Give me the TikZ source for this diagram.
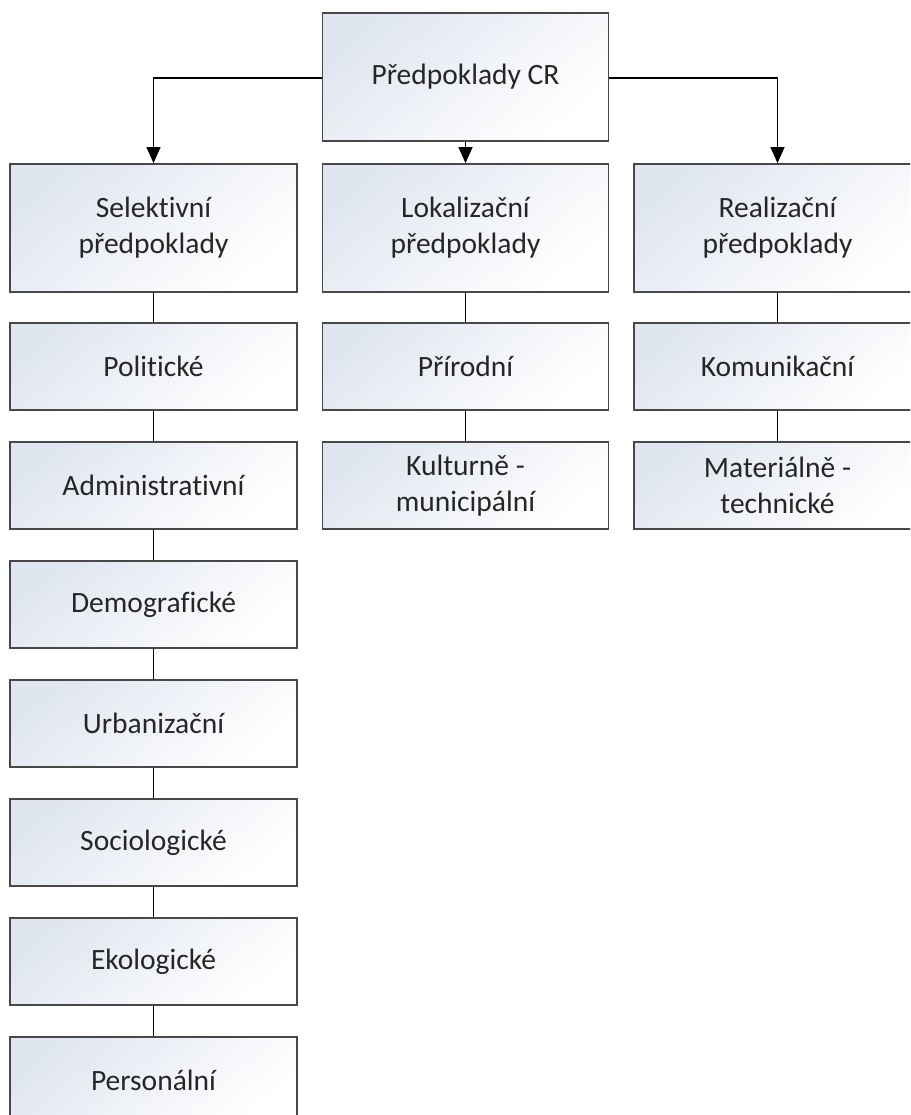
\documentclass[tikz,border=0pt]{standalone}
\usepackage{fontspec}
\setmainfont{Carlito}[Ligatures=NoCommon]
\usetikzlibrary{arrows.meta}
\definecolor{boxblue}{HTML}{E0E6F0}
\definecolor{boxline}{HTML}{484848}
\tikzset{
  box/.style={draw=boxline, line width=1.8pt, top color=boxblue, bottom color=white, shading angle=40,
    minimum width=287pt, inner sep=0pt, align=center, text=black!85,
    font=\fontsize{29.5}{36}\selectfont},
  tallbox/.style={box, minimum height=128pt},
  lowbox/.style={box, minimum height=87pt},
  conn/.style={draw=black, line width=1.3pt},
  arr/.style={conn, -{Triangle[length=16pt,width=14pt]}}
}
\begin{document}
\begin{tikzpicture}[x=1pt,y=-1pt]
\clip (0,0) rectangle (910,1115);
\node[tallbox, minimum width=286pt] (top) at (465.5,77) {Předpoklady CR};
\node[tallbox] (sel) at (153.5,228) {Selektivní\\předpoklady};
\node[tallbox, minimum width=286pt] (lok) at (465.5,228) {Lokalizační\\předpoklady};
\node[tallbox] (rea) at (777.5,228) {Realizační\\předpoklady};
\node[lowbox] (pol) at (153.5,366.5) {Politické};
\node[lowbox] (adm) at (153.5,485.5) {Administrativní};
\node[lowbox] (dem) at (153.5,604.5) {Demografické};
\node[lowbox] (urb) at (153.5,723.5) {Urbanizační};
\node[lowbox] (soc) at (153.5,842.5) {Sociologické};
\node[lowbox] (eko) at (153.5,961.5) {Ekologické};
\node[lowbox] (per) at (153.5,1080.5) {Personální};
\node[lowbox, minimum width=286pt] (pri) at (465.5,366.5) {Přírodní};
\node[lowbox, minimum width=286pt] (kul) at (465.5,485.5) {Kulturně -\\municipální};
\node[lowbox] (kom) at (777.5,366.5) {Komunikační};
\node[lowbox] (mat) at (777.5,485.5) {Materiálně -\\technické};
\draw[arr] (top.west |- 0,78) -| (sel.north);
\draw[arr] (top.east |- 0,78) -| (rea.north);
\draw[arr] (top.south) -- (lok.north);
\draw[conn] (sel) -- (pol);
\draw[conn] (pol) -- (adm);
\draw[conn] (adm) -- (dem);
\draw[conn] (dem) -- (urb);
\draw[conn] (urb) -- (soc);
\draw[conn] (soc) -- (eko);
\draw[conn] (eko) -- (per);
\draw[conn] (lok) -- (pri);
\draw[conn] (pri) -- (kul);
\draw[conn] (rea) -- (kom);
\draw[conn] (kom) -- (mat);
\end{tikzpicture}
\end{document}
